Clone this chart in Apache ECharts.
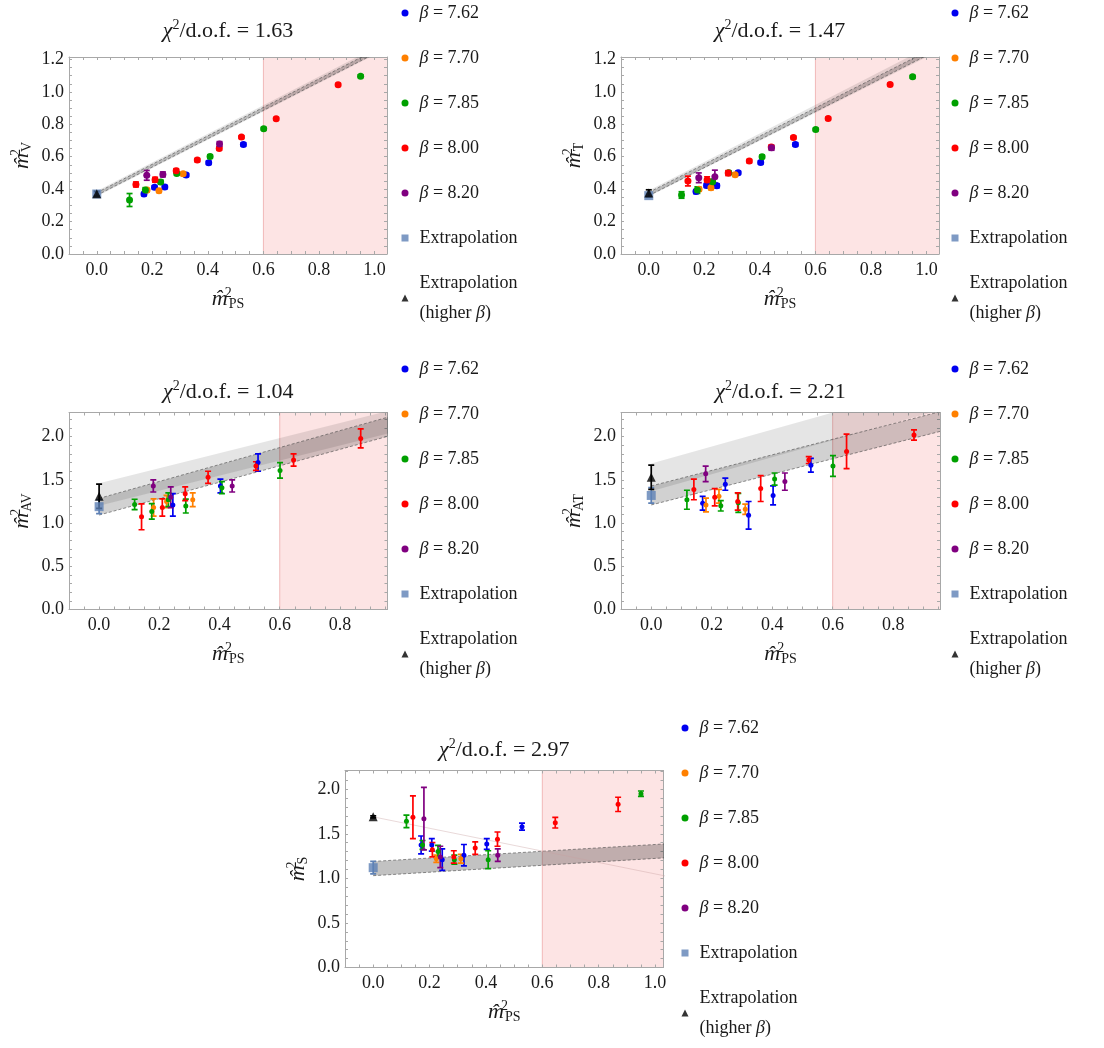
<!DOCTYPE html>
<html><head><meta charset="utf-8">
<script src="https://cdn.jsdelivr.net/npm/echarts@6/dist/echarts.min.js"></script>
<style>html,body{margin:0;padding:0;background:#fff}#c{width:1104px;height:1048px}</style>
</head><body><div id="c"></div>
<script>
// ---------- names / labels ----------
const betaNames = ['β = 7.62', 'β = 7.70', 'β = 7.85', 'β = 8.00', 'β = 8.20'];
const extrapName = 'Extrapolation';
const higherName = 'Extrapolation (higher β)';
const chi2Values = ['1.63', '1.47', '1.04', '2.21', '2.97'];
const channelLabels = ['V', 'T', 'AV', 'AT', 'S'];
const xTickLabelsStep = 0.2;

// ---------- data: [m_PS^2, m^2, error] ----------
// Vector
const V_762 = [[0.170,0.370,0.010],[0.208,0.411,0.010],[0.245,0.413,0.010],[0.322,0.487,0.010],[0.403,0.563,0.010],[0.528,0.676,0.010]];
const V_770 = [[0.181,0.394,0.010],[0.224,0.390,0.010],[0.311,0.495,0.010]];
const V_785 = [[0.118,0.333,0.040],[0.175,0.394,0.015],[0.230,0.444,0.012],[0.288,0.497,0.010],[0.408,0.602,0.010],[0.601,0.773,0.008],[0.950,1.097,0.008]];
const V_800 = [[0.141,0.429,0.015],[0.210,0.458,0.015],[0.286,0.514,0.012],[0.362,0.579,0.010],[0.441,0.651,0.010],[0.521,0.721,0.008],[0.646,0.834,0.008],[0.869,1.044,0.008]];
const V_820 = [[0.180,0.485,0.030],[0.238,0.491,0.015],[0.442,0.678,0.015]];
const V_ext = [[0,0.370,0.010]];
const V_high = [[0,0.372,0.015]];
// bands: [x, lower, upper]
const V_bandHigh = [[0,0.355,0.388],[1.1,1.315,1.359]];
const V_bandExt = [[0,0.362,0.378],[1.1,1.322,1.343]];

// Tensor
const T_762 = [[0.170,0.385,0.012],[0.208,0.423,0.012],[0.245,0.421,0.012],[0.322,0.501,0.010],[0.403,0.565,0.010],[0.528,0.676,0.010]];
const T_770 = [[0.181,0.400,0.012],[0.224,0.409,0.012],[0.311,0.489,0.010]];
const T_785 = [[0.118,0.364,0.020],[0.175,0.394,0.020],[0.230,0.446,0.015],[0.288,0.501,0.010],[0.408,0.600,0.010],[0.601,0.768,0.008],[0.950,1.093,0.008]];
const T_800 = [[0.141,0.450,0.030],[0.210,0.456,0.020],[0.286,0.499,0.015],[0.362,0.573,0.010],[0.441,0.660,0.010],[0.521,0.719,0.008],[0.646,0.836,0.008],[0.869,1.046,0.008]];
const T_820 = [[0.180,0.470,0.030],[0.238,0.477,0.040],[0.442,0.655,0.015]];
const T_ext = [[0,0.360,0.010]];
const T_high = [[0,0.376,0.020]];
const T_bandHigh = [[0,0.355,0.392],[1.1,1.300,1.360]];
const T_bandExt = [[0,0.360,0.380],[1.1,1.310,1.335]];

// Axial vector
const AV_762 = [[0.245,1.21,0.13],[0.403,1.43,0.08],[0.528,1.70,0.10]];
const AV_770 = [[0.181,1.18,0.10],[0.224,1.25,0.07],[0.311,1.27,0.08]];
const AV_785 = [[0.118,1.216,0.06],[0.175,1.135,0.09],[0.230,1.27,0.08],[0.288,1.197,0.08],[0.408,1.41,0.07],[0.601,1.61,0.09]];
const AV_800 = [[0.141,1.073,0.15],[0.210,1.18,0.10],[0.286,1.34,0.08],[0.362,1.53,0.07],[0.521,1.66,0.05],[0.646,1.73,0.07],[0.869,1.98,0.11]];
const AV_820 = [[0.180,1.43,0.07],[0.238,1.30,0.12],[0.442,1.43,0.07]];
const AV_ext = [[0,1.19,0.08]];
const AV_high = [[0,1.31,0.14]];
const AV_bandHigh = [[0,1.20,1.46],[1.1,2.16,2.42]];
const AV_bandExt = [[0,1.093,1.286],[1.1,2.138,2.364]];

// Axial tensor
const AT_762 = [[0.170,1.23,0.08],[0.245,1.45,0.07],[0.322,1.09,0.16],[0.403,1.32,0.11],[0.528,1.67,0.08]];
const AT_770 = [[0.181,1.21,0.08],[0.224,1.31,0.08],[0.311,1.16,0.06]];
const AT_785 = [[0.118,1.27,0.11],[0.230,1.20,0.06],[0.288,1.235,0.11],[0.408,1.51,0.07],[0.601,1.66,0.12]];
const AT_800 = [[0.141,1.39,0.12],[0.210,1.30,0.10],[0.286,1.25,0.10],[0.362,1.40,0.15],[0.521,1.73,0.04],[0.646,1.83,0.20],[0.869,2.02,0.06]];
const AT_820 = [[0.180,1.57,0.09],[0.442,1.48,0.10]];
const AT_ext = [[0,1.32,0.09]];
const AT_high = [[0,1.53,0.14]];
const AT_bandHigh = [[0,1.37,1.69],[1.1,2.45,2.77]];
const AT_bandExt = [[0,1.21,1.43],[1.1,2.19,2.42]];

// Scalar
const S_762 = [[0.170,1.375,0.10],[0.208,1.375,0.07],[0.245,1.21,0.12],[0.322,1.26,0.12],[0.403,1.385,0.06],[0.528,1.58,0.04]];
const S_770 = [[0.224,1.22,0.04],[0.311,1.22,0.05]];
const S_785 = [[0.118,1.64,0.07],[0.175,1.375,0.05],[0.230,1.30,0.07],[0.288,1.21,0.05],[0.408,1.21,0.10],[0.950,1.95,0.03]];
const S_800 = [[0.141,1.685,0.24],[0.210,1.32,0.08],[0.286,1.24,0.07],[0.362,1.34,0.07],[0.441,1.44,0.08],[0.646,1.625,0.06],[0.869,1.83,0.08]];
const S_820 = [[0.180,1.67,0.35],[0.238,1.24,0.12],[0.442,1.26,0.07]];
const S_ext = [[0,1.12,0.07]];
const S_high = [[0,1.69,0.012]];
const S_bandExt = [[0,1.03,1.19],[1.1,1.243,1.399]];
const S_highLine = [[0,1.69],[1.1,0.986]];

// excluded (shaded) region of m_PS^2
const excludedFrom = 0.6;

// ---------- styling ----------
const FONT = '"Liberation Serif", "DejaVu Serif", serif';
const TXT = '#1a1a1a';
const betaColors = ['#0000f0', '#ff8000', '#00a000', '#ff0000', '#800080'];
const extrapColor = '#5e81b5';
const higherColor = '#000000';

const panels = [
  {sets:[V_762,V_770,V_785,V_800,V_820], ext:V_ext, high:V_high, bandHigh:V_bandHigh, bandExt:V_bandExt,
   grid:{left:69, top:57, width:318, height:197}, x:[-0.1,1.045], y:[0,1.215], yInt:0.05, yStep:0.2, legend:[401.5,-2], titleY:31, dot:7},
  {sets:[T_762,T_770,T_785,T_800,T_820], ext:T_ext, high:T_high, bandHigh:T_bandHigh, bandExt:T_bandExt,
   grid:{left:621, top:57, width:318, height:197}, x:[-0.1,1.045], y:[0,1.215], yInt:0.05, yStep:0.2, legend:[951.5,-2], titleY:31, dot:7},
  {sets:[AV_762,AV_770,AV_785,AV_800,AV_820], ext:AV_ext, high:AV_high, bandHigh:AV_bandHigh, bandExt:AV_bandExt,
   grid:{left:69, top:412.5, width:318.5, height:197}, x:[-0.1,0.958], y:[0,2.28], yInt:0.1, yStep:0.5, legend:[401.5,354], titleY:392, dot:5},
  {sets:[AT_762,AT_770,AT_785,AT_800,AT_820], ext:AT_ext, high:AT_high, bandHigh:AT_bandHigh, bandExt:AT_bandExt,
   grid:{left:621, top:412.5, width:319, height:197}, x:[-0.1,0.955], y:[0,2.28], yInt:0.1, yStep:0.5, legend:[951.5,354], titleY:392, dot:5},
  {sets:[S_762,S_770,S_785,S_800,S_820], ext:S_ext, high:S_high, bandHigh:null, bandExt:S_bandExt, highLine:S_highLine,
   grid:{left:345, top:770.5, width:318.5, height:197}, x:[-0.1,1.03], y:[0,2.21], yInt:0.1, yStep:0.5, legend:[681.5,713], titleY:750, dot:5}
];

function stepFormatter(step) {
  return function (v) {
    const r = v / step;
    if (Math.abs(r - Math.round(r)) > 1e-6) return '';
    return Math.abs(v) < 1e-9 ? '0.0' : v.toFixed(1);
  };
}

const frameColor = '#a8a8a8';
function makeAxis(dim, p, cfg, pos, showLabel) {
  const isX = dim === 'x';
  const ax = {
    type: 'value', gridIndex: p, position: pos,
    min: isX ? cfg.x[0] : cfg.y[0], max: isX ? cfg.x[1] : cfg.y[1],
    interval: isX ? 0.05 : cfg.yInt,
    axisLine: {show: true, onZero: false, lineStyle: {color: frameColor, width: 1}},
    axisTick: {show: true, inside: true, length: 3, lineStyle: {color: frameColor}},
    splitLine: {show: false},
    axisLabel: {show: showLabel, margin: isX ? 7 : 5, color: TXT, fontFamily: FONT, fontSize: 18,
      formatter: stepFormatter(isX ? xTickLabelsStep : cfg.yStep)}
  };
  const hatM = 'm\u0302';
  if (showLabel) {
    const sub = isX ? 'PS' : channelLabels[p];
    ax.name = '{m|' + hatM + '}{sup|2}{sub|' + sub + '}';
    ax.nameLocation = 'middle';
    ax.nameGap = isX ? 30 : 24;
    ax.nameTextStyle = {
      rich: {
        m: {fontFamily: FONT, fontStyle: 'italic', fontSize: 22, color: TXT, lineHeight: 30},
        sup: {fontFamily: FONT, fontSize: 14, color: TXT, verticalAlign: 'top', lineHeight: 14, width: 1, padding: [2,0,0,0]},
        sub: {fontFamily: FONT, fontSize: 14, color: TXT, verticalAlign: 'bottom', lineHeight: 14, padding: [0,0,3,0]}
      }
    };
  }
  return ax;
}

const grids = [], xAxes = [], yAxes = [], series = [], legends = [], graphics = [];

function errSeries(name, data, color, p, z) {
  return {
    name: name, type: 'custom', xAxisIndex: 2*p, yAxisIndex: 2*p, z: z, clip: true,
    encode: {x: 0, y: 1}, data: data, silent: true,
    itemStyle: {color: color},
    renderItem: function (params, api) {
      const x = api.value(0), y = api.value(1), e = api.value(2);
      const t = api.coord([x, y + e]), b = api.coord([x, y - e]);
      const w = 3;
      const st = {stroke: color, lineWidth: 1.7};
      return {type: 'group', children: [
        {type: 'line', shape: {x1: t[0], y1: t[1], x2: b[0], y2: b[1]}, style: st},
        {type: 'line', shape: {x1: t[0]-w, y1: t[1], x2: t[0]+w, y2: t[1]}, style: st},
        {type: 'line', shape: {x1: b[0]-w, y1: b[1], x2: b[0]+w, y2: b[1]}, style: st}
      ]};
    }
  };
}

function bandSeries(data, p, fill, dashed) {
  return {
    type: 'custom', xAxisIndex: 2*p, yAxisIndex: 2*p, z: 1, clip: true, silent: true,
    encode: {x: 0, y: [1, 2]}, data: data,
    renderItem: function (params, api) {
      if (params.dataIndex !== 0) return null;
      const l0 = api.coord([api.value(0, 0), api.value(1, 0)]);
      const u0 = api.coord([api.value(0, 0), api.value(2, 0)]);
      const l1 = api.coord([api.value(0, 1), api.value(1, 1)]);
      const u1 = api.coord([api.value(0, 1), api.value(2, 1)]);
      const children = [{type: 'polygon', shape: {points: [l0, l1, u1, u0]}, style: {fill: fill}}];
      if (dashed) {
        const ds = {stroke: 'rgba(70,70,70,0.75)', lineWidth: 0.8, lineDash: [3, 2], fill: null};
        children.push({type: 'polyline', shape: {points: [l0, l1]}, style: ds});
        children.push({type: 'polyline', shape: {points: [u0, u1]}, style: ds});
      }
      return {type: 'group', children: children};
    }
  };
}

function pinkSeries(p) {
  return {
    type: 'custom', xAxisIndex: 2*p, yAxisIndex: 2*p, z: 0, clip: true, silent: true,
    encode: {x: 0}, data: [[excludedFrom]],
    renderItem: function (params, api) {
      const cs = params.coordSys;
      const x0 = api.coord([api.value(0), 0])[0];
      return {type: 'group', children: [
        {type: 'rect', shape: {x: x0, y: cs.y, width: cs.x + cs.width - x0, height: cs.height},
         style: {fill: 'rgba(248,170,170,0.32)'}},
        {type: 'line', shape: {x1: x0, y1: cs.y, x2: x0, y2: cs.y + cs.height},
         style: {stroke: 'rgba(230,130,130,0.5)', lineWidth: 1}}
      ]};
    }
  };
}

panels.forEach(function (cfg, p) {
  grids.push(Object.assign({containLabel: false, outerBoundsMode: 'none'}, cfg.grid));
  xAxes.push(makeAxis('x', p, cfg, 'bottom', true));
  xAxes.push(makeAxis('x', p, cfg, 'top', false));
  yAxes.push(makeAxis('y', p, cfg, 'left', true));
  yAxes.push(makeAxis('y', p, cfg, 'right', false));

  series.push(pinkSeries(p));
  if (cfg.bandHigh) series.push(bandSeries(cfg.bandHigh, p, 'rgba(0,0,0,0.10)', false));
  series.push(bandSeries(cfg.bandExt, p, p === 4 ? 'rgba(0,0,0,0.24)' : 'rgba(0,0,0,0.18)', true));
  if (cfg.highLine) {
    series.push({type: 'line', xAxisIndex: 2*p, yAxisIndex: 2*p, data: cfg.highLine, z: 1, clip: true, silent: true,
      symbol: 'none', lineStyle: {color: 'rgba(200,160,160,0.4)', width: 1}});
  }

  // scatter (dots) first so legend uses them
  cfg.sets.forEach(function (d, i) {
    series.push({name: betaNames[i], type: 'scatter', xAxisIndex: 2*p, yAxisIndex: 2*p, z: 5,
      symbol: 'circle', symbolSize: cfg.dot, data: d.map(function (r) { return [r[0], r[1]]; }),
      itemStyle: {color: betaColors[i], opacity: 1}, emphasis: {disabled: true}});
  });
  series.push({name: extrapName, type: 'scatter', xAxisIndex: 2*p, yAxisIndex: 2*p, z: 5,
    symbol: 'rect', symbolSize: 9, data: cfg.ext.map(function (r) { return [r[0], r[1]]; }),
    itemStyle: {color: extrapColor}, emphasis: {disabled: true}});
  series.push({name: higherName, type: 'scatter', xAxisIndex: 2*p, yAxisIndex: 2*p, z: 6,
    symbol: 'triangle', symbolSize: 9, data: cfg.high.map(function (r) { return [r[0], r[1]]; }),
    itemStyle: {color: higherColor}, emphasis: {disabled: true}});

  cfg.sets.forEach(function (d, i) { series.push(errSeries(betaNames[i], d, betaColors[i], p, 4)); });
  series.push(errSeries(extrapName, cfg.ext, extrapColor, p, 4));
  series.push(errSeries(higherName, cfg.high, higherColor, p, 4));

  legends.push({
    orient: 'vertical', left: cfg.legend[0], top: cfg.legend[1], height: 420, padding: 0,
    itemWidth: 7, itemHeight: 7, itemGap: 15,
    data: betaNames.concat([extrapName, higherName]),
    textStyle: {fontFamily: FONT, fontSize: 18, color: TXT, lineHeight: 30, padding: [0, 0, 0, 6],
      rich: {i: {fontFamily: FONT, fontStyle: 'italic', fontSize: 18, color: TXT, lineHeight: 30}}},
    formatter: function (name) {
      return name.replace(' (', '\n(').replace('β', '{i|β}');
    }
  });

  graphics.push({
    type: 'text',
    x: cfg.grid.left + cfg.grid.width / 2, y: cfg.titleY,
    style: {
      text: '{i|χ}{sup|2}/d.o.f. = ' + chi2Values[p],
      x: 0, y: 0, align: 'center', verticalAlign: 'middle',
      fontFamily: FONT, fontSize: 22, fill: TXT, lineHeight: 30,
      rich: {
        i: {fontFamily: FONT, fontStyle: 'italic', fontSize: 22, fill: TXT, lineHeight: 30},
        sup: {fontFamily: FONT, fontSize: 14, fill: TXT, verticalAlign: 'top', lineHeight: 14, padding: [2, 0, 0, 0]}
      }
    }
  });
});

const chart = echarts.init(document.getElementById('c'), null, {renderer: 'canvas'});
chart.setOption({
  animation: false,
  backgroundColor: '#ffffff',
  grid: grids, xAxis: xAxes, yAxis: yAxes, series: series, legend: legends,
  graphic: {elements: graphics},
  tooltip: {show: false}
});
</script></body></html>
